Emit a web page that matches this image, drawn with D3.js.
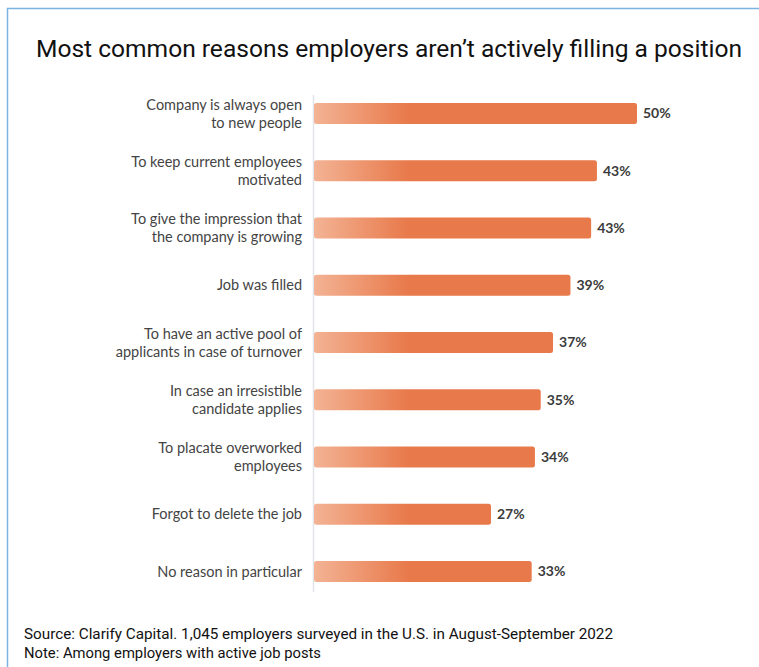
<!DOCTYPE html>
<html>
<head>
<meta charset="utf-8">
<script src="https://cdn.jsdelivr.net/npm/d3@7"></script>
<style>
  html, body { margin: 0; padding: 0; background: #fff; }
  svg { display: block; }
</style>
</head>
<body>
<svg id="chart" width="759" height="667"></svg>
<script>
const title = "Most common reasons employers aren\u2019t actively filling a position";
const categories = [
  "Company is always open\nto new people",
  "To keep current employees\nmotivated",
  "To give the impression that\nthe company is growing",
  "Job was filled",
  "To have an active pool of\napplicants in case of turnover",
  "In case an irresistible\ncandidate applies",
  "To placate overworked\nemployees",
  "Forgot to delete the job",
  "No reason in particular"
];
const values = [50, 43.8, 42.9, 39.7, 37, 35.1, 34.2, 27.4, 33.7];
const valueLabels = ["50%", "43%", "43%", "39%", "37%", "35%", "34%", "27%", "33%"];
const footnotes = [
  "Source: Clarify Capital. 1,045 employers surveyed in the U.S. in August-September 2022",
  "Note: Among employers with active job posts"
];
const footnoteWidths = [589, 297];

const svg = d3.select("#chart");

// frame border (top + left)
svg.append("path")
  .attr("d", "M7.5,667 L7.5,8.5 L759,8.5")
  .attr("fill", "none")
  .attr("stroke", "#79b4e3")
  .attr("stroke-width", 1.5);

// title
svg.append("text")
  .attr("x", 36).attr("y", 57)
  .attr("font-family", "Roboto, sans-serif")
  .attr("font-size", 23.5)
  .attr("fill", "#111")
  .attr("textLength", 706)
  .attr("lengthAdjust", "spacingAndGlyphs")
  .text(title);

const x = d3.scaleLinear().domain([0, 50]).range([314, 637]);
const y = d3.scalePoint().domain(categories).range([113.5, 571.5]);
const barH = 21;

// gradient
const defs = svg.append("defs");
const grad = defs.append("linearGradient")
  .attr("id", "barGrad")
  .attr("gradientUnits", "userSpaceOnUse")
  .attr("x1", x(0)).attr("x2", x(0) + 95).attr("y1", 0).attr("y2", 0);
grad.append("stop").attr("offset", "0%").attr("stop-color", "#f3b394");
grad.append("stop").attr("offset", "100%").attr("stop-color", "#e8794a");

// axis line
svg.append("line")
  .attr("x1", 313.5).attr("x2", 313.5)
  .attr("y1", 95).attr("y2", 592)
  .attr("stroke", "#e1e4e9")
  .attr("stroke-width", 1.5);

const g = svg.append("g");
const rows = g.selectAll("g.row").data(categories).join("g").attr("class", "row");

rows.append("rect")
  .attr("x", x(0))
  .attr("y", d => y(d) - barH / 2)
  .attr("width", (d, i) => x(values[i]) - x(0))
  .attr("height", barH)
  .attr("rx", 2.5)
  .attr("fill", "url(#barGrad)");

rows.append("text")
  .attr("x", (d, i) => x(values[i]) + 6)
  .attr("y", d => y(d))
  .attr("dy", "0.35em")
  .attr("font-family", "Lato, sans-serif")
  .attr("font-weight", "bold")
  .attr("font-size", 14)
  .attr("fill", "#3b3b3b")
  .text((d, i) => valueLabels[i]);

rows.each(function(d) {
  const lines = d.split("\n");
  const t = d3.select(this).append("text")
    .attr("text-anchor", "end")
    .attr("font-family", "Lato, sans-serif")
    .attr("font-size", 14.5)
    .attr("fill", "#444");
  const lh = 18;
  lines.forEach((ln, k) => {
    t.append("tspan")
      .attr("x", 302)
      .attr("y", y(d) + (k - (lines.length - 1) / 2) * lh)
      .attr("dy", "0.35em")
      .text(ln);
  });
});

// footnotes
svg.selectAll("text.foot").data(footnotes).join("text")
  .attr("class", "foot")
  .attr("x", 24)
  .attr("y", (d, i) => 639 + i * 19)
  .attr("font-family", "Roboto, sans-serif")
  .attr("font-size", 14.5)
  .attr("fill", "#111")
  .attr("textLength", (d, i) => footnoteWidths[i])
  .attr("lengthAdjust", "spacingAndGlyphs")
  .text(d => d);
</script>
</body>
</html>
